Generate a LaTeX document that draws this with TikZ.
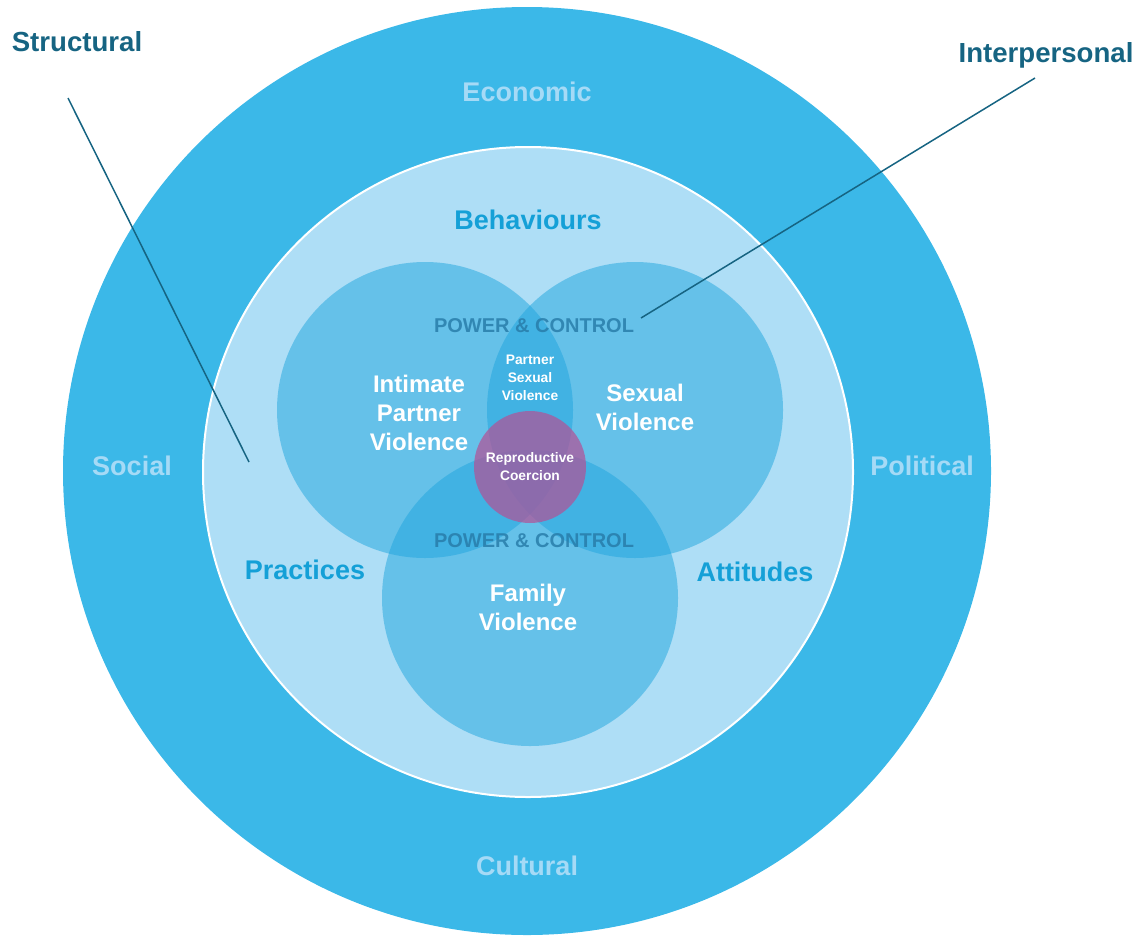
\documentclass[tikz,border=0pt]{standalone}
\usepackage{fontspec}
\setmainfont{Liberation Sans}
\usetikzlibrary{positioning}

\definecolor{ringblue}{RGB}{59,184,232}
\definecolor{paleblue}{RGB}{174,222,246}
\definecolor{midblue}{RGB}{30,165,222}
\definecolor{labelblue}{RGB}{20,160,215}
\definecolor{ringtext}{RGB}{165,218,246}
\definecolor{darkteal}{RGB}{22,100,130}
\definecolor{powertext}{RGB}{40,125,170}
\definecolor{coercion}{RGB}{180,80,150}

\begin{document}
\begin{tikzpicture}[x=0.5pt,y=-0.5pt,
   ring/.style={font=\bfseries\fontsize{13.5}{16}\selectfont,text=ringtext},
   aspect/.style={font=\bfseries\fontsize{13.5}{16}\selectfont,text=labelblue},
   level/.style={font=\bfseries\fontsize{13.8}{16}\selectfont,text=darkteal},
   harm/.style={font=\bfseries\fontsize{12}{14.5}\selectfont,text=white,align=center},
   smallharm/.style={font=\bfseries\fontsize{6.9}{9}\selectfont,text=white,align=center},
   power/.style={font=\bfseries\fontsize{10}{12}\selectfont,text=powertext,text opacity=.85},
   venn/.style={fill=midblue,fill opacity=.5},
   leader/.style={draw=darkteal,line width=0.75pt}]
   \useasboundingbox (0,0) rectangle (1138,937);

   % rings
   \fill[ringblue] (527,471) circle (464);
   \filldraw[fill=paleblue,draw=white,line width=1pt] (528,472) circle (325);

   % three overlapping forms of violence
   \fill[venn] (425,410) circle (148);
   \fill[venn] (635,410) circle (148);
   \fill[venn] (530,598) circle (148);
   \fill[coercion,fill opacity=.7] (530,467) circle (56);

   % structural ring
   \node[ring] (economic)  at (527,92)  {Economic};
   \node[ring] (social)    at (132,466) {Social};
   \node[ring] (political) at (922,466) {Political};
   \node[ring] (cultural)  at (527,866) {Cultural};

   % inner ring
   \node[aspect] (behaviours) at (528,220) {Behaviours};
   \node[aspect] (practices)  at (305,570) {Practices};
   \node[aspect] (attitudes)  at (755,572) {Attitudes};

   \node[power] (power_top) at (534,326) {POWER \& CONTROL};
   \node[power] (power_bot) at (534,541) {POWER \& CONTROL};

   \node[harm] (ipv)    at (419,413) {Intimate\\Partner\\Violence};
   \node[harm] (sv)     at (645,407) {Sexual\\Violence};
   \node[harm] (fv)     at (528,607) {Family\\Violence};
   \node[smallharm] (psv) at (530,378) {Partner\\Sexual\\Violence};
   \node[smallharm] (rc)  at (530,467) {Reproductive\\Coercion};

   % levels
   \node[level] (structural)    at (77,42)    {Structural};
   \node[level] (interpersonal) at (1046,55) {Interpersonal};
   \coordinate (structural_from) at (68,98);
   \coordinate (structural_to)   at (249,462);
   \coordinate (interpersonal_from) at (1035,78);
   \coordinate (interpersonal_to)   at (641,318);
   \path[leader]
   (structural_from) edge (structural_to)
   (interpersonal_from) edge (interpersonal_to);
\end{tikzpicture}
\end{document}
